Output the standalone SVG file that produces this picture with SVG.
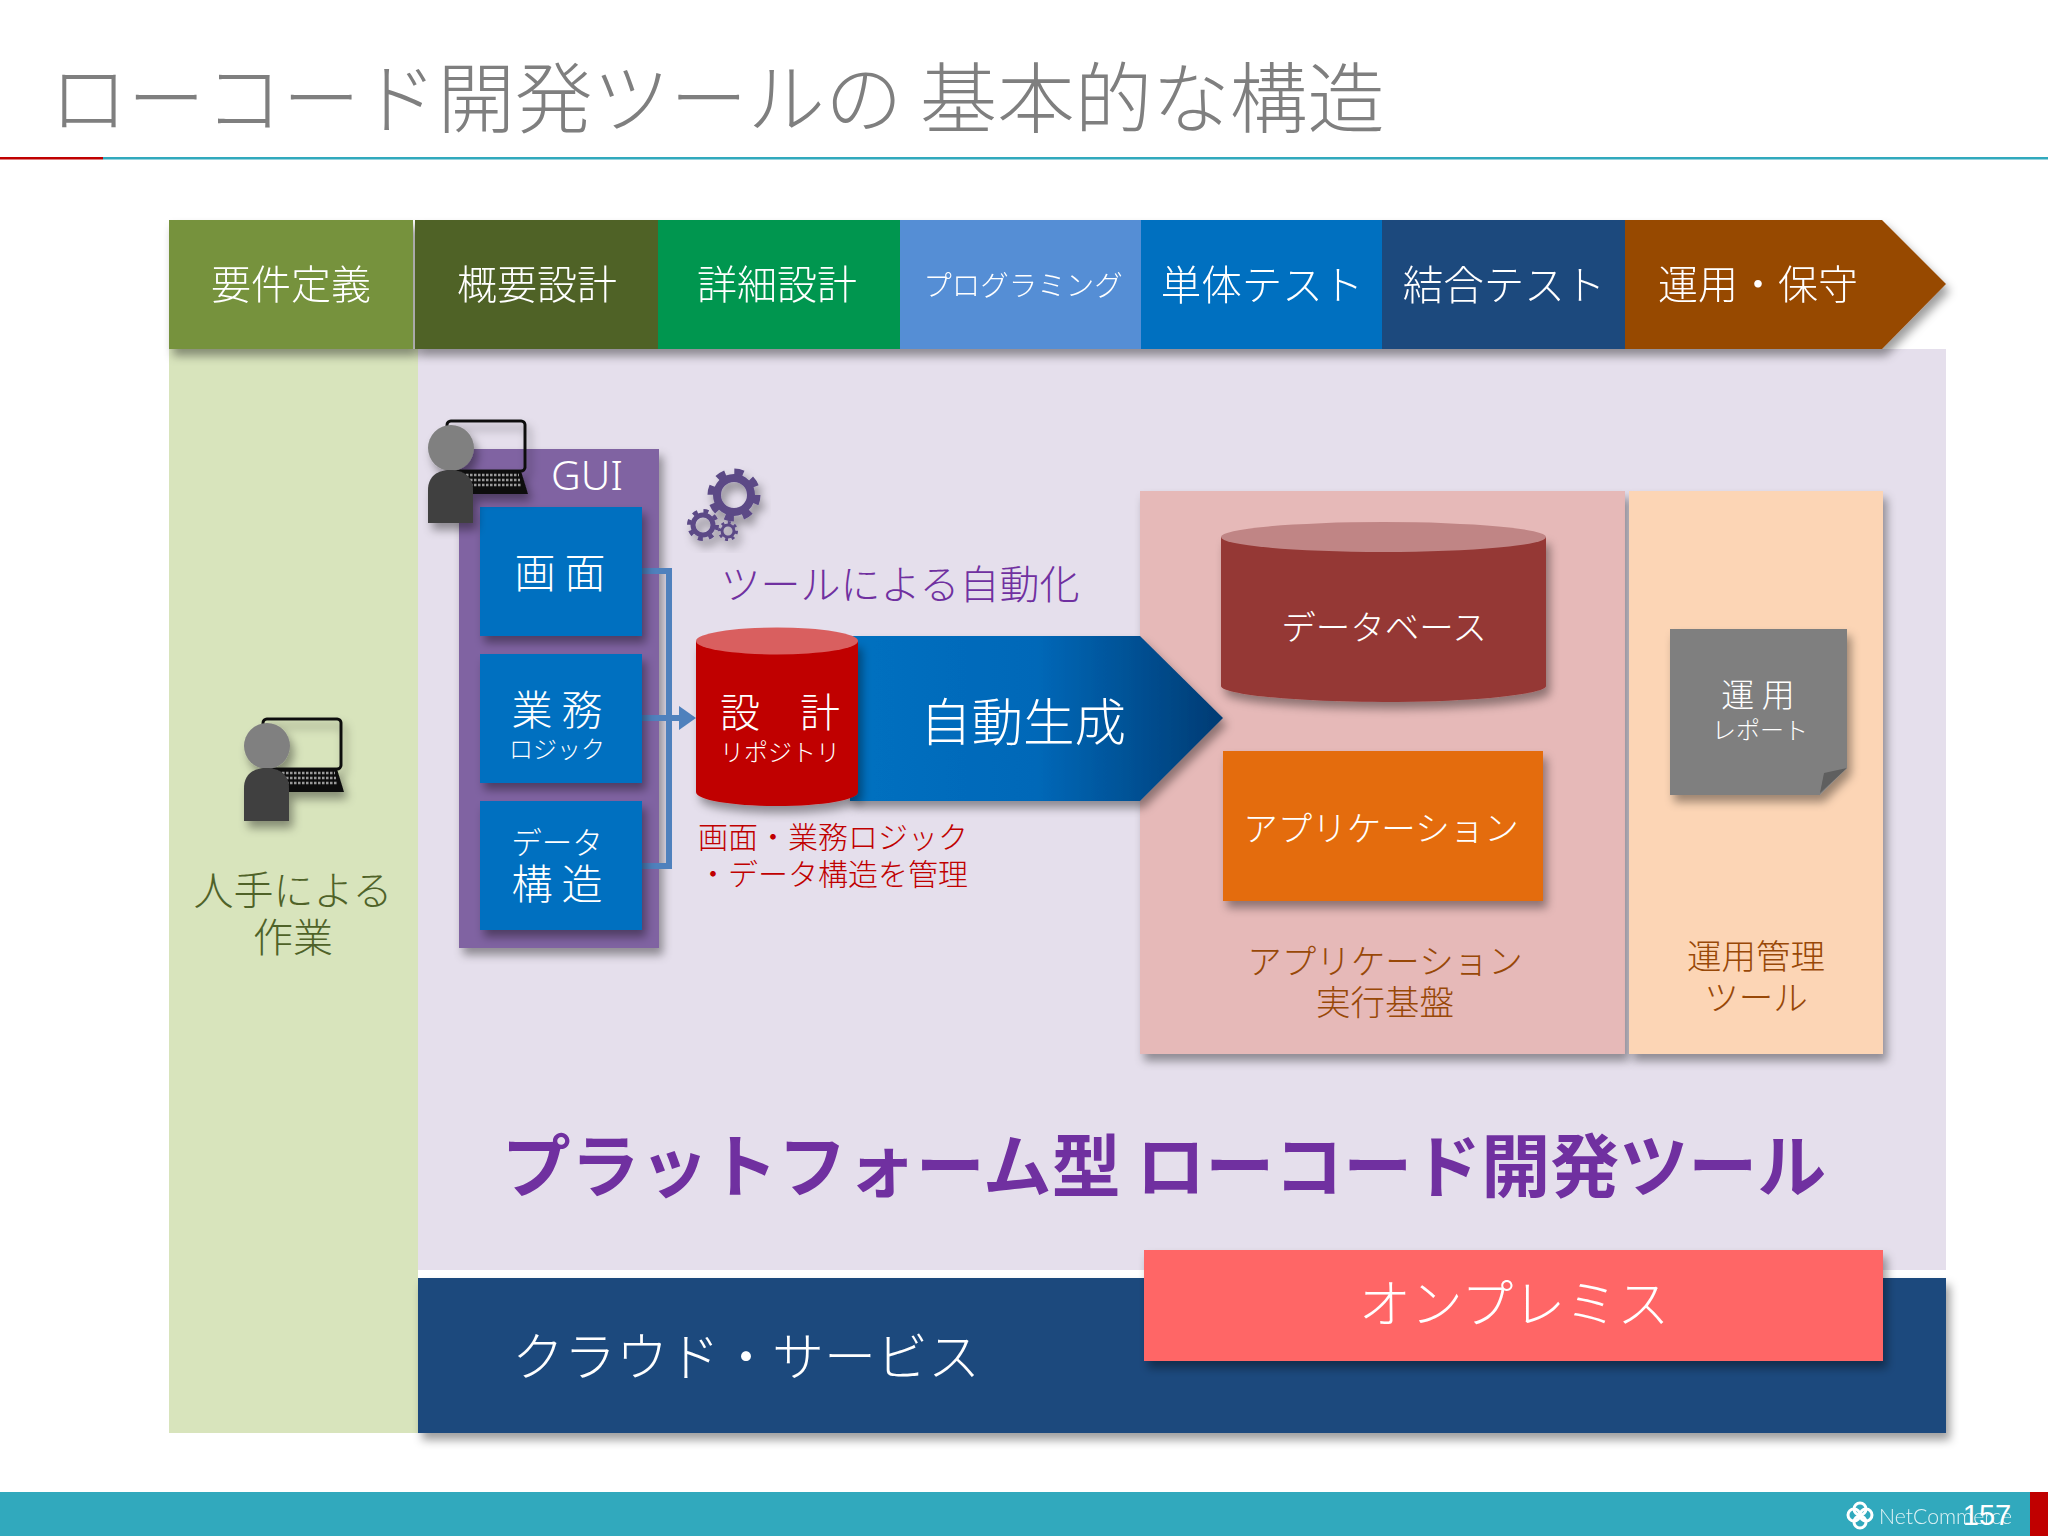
<svg xmlns="http://www.w3.org/2000/svg" xmlns:xlink="http://www.w3.org/1999/xlink" width="2048" height="1536" viewBox="0 0 2048 1536">
<style>
text{font-family:"Noto Sans CJK JP","Noto Sans",sans-serif;font-weight:300;dominant-baseline:central;text-anchor:middle;fill:#fff}
.s{filter:url(#sh)}
.g{stroke:#5b4a86;fill:none}
.c{fill:none;stroke:#4f81bd;stroke-width:6}
</style>
<defs>
<filter id="sh" x="-20%" y="-20%" width="140%" height="140%"><feDropShadow dx="4" dy="7" stdDeviation="5" flood-color="#000" flood-opacity=".38"/></filter>
<linearGradient id="ag" x1="0" x2="1" y1="0" y2="0"><stop offset="0" stop-color="#0070c0"/><stop offset=".5" stop-color="#0068b8"/><stop offset="1" stop-color="#003b73"/></linearGradient>
<g id="person">
<rect x="447" y="421" width="78" height="50" rx="4" fill="#fff" fill-opacity="0" stroke="#111" stroke-width="3"/>
<path d="M462 471H521L528 494H462Z" fill="#111"/>
<path d="M466 475H519M466 480H520M466 485H522" stroke="#999" stroke-width="2.5" stroke-dasharray="2.5 1.5"/>
<circle cx="451" cy="448" r="23" fill="#808080"/>
<path d="M428 523V490C428 476 438 470 450 470C463 470 473 476 473 490V523Z" fill="#404040"/>
</g>
</defs>
<rect width="2048" height="1536" fill="#fff"/>
<g id="title"><text x="50" y="93" style="text-anchor:start;fill:#7f7f7f" font-size="77.500">ローコード開発ツールの 基本的な構造</text></g>
<g id="rule"><rect x="0" y="157" width="103" height="2.500" fill="#c00000"/><rect x="103" y="157" width="1945" height="2.500" fill="#31a9bd"/></g>

<g id="pane-purple"><rect x="418" y="349" width="1528" height="921" fill="#e5dfec"/></g>
<g id="pane-green"><rect x="169" y="349" width="249" height="1084" fill="#d8e4bc"/><text x="293" y="888" font-size="40" style="fill:#4f6228">人手による</text><text x="293" y="935" font-size="40" style="fill:#4f6228">作業</text></g>
<use id="person-manual" xlink:href="#person" href="#person" x="-184" y="298" class="s"/>

<g id="phases" class="s">
<g id="p1"><rect x="169" y="220" width="244" height="129" fill="#76923c"/><text x="291" y="282" font-size="40">要件定義</text></g>
<g id="p2"><rect x="415" y="220" width="243" height="129" fill="#4f6228"/><text x="537" y="282" font-size="40">概要設計</text></g>
<g id="p3"><rect x="658" y="220" width="242" height="129" fill="#00964f"/><text x="777" y="282" font-size="40">詳細設計</text></g>
<g id="p4"><rect x="900" y="220" width="241" height="129" fill="#558ed5"/><text x="1023" y="283" font-size="28.500">プログラミング</text></g>
<g id="p5"><rect x="1141" y="220" width="241" height="129" fill="#0070c0"/><text x="1262" y="282" font-size="40.500">単体テスト</text></g>
<g id="p6"><rect x="1382" y="220" width="243" height="129" fill="#1f497d"/><text x="1504" y="282" font-size="40.500">結合テスト</text></g>
<g id="p7"><path d="M1625 220H1882L1946 284L1882 349H1625Z" fill="#974806"/><text x="1758" y="282" font-size="40">運用・保守</text></g>
</g>

<g id="gui"><rect class="s" x="459" y="449" width="200" height="499" fill="#8064a2"/><text x="587" y="474" font-size="41" style="font-family:'Noto Sans',sans-serif">GUI</text></g>
<g id="connectors">
<path class="c" d="M642 571H669V866H642M642 718H680"/>
<path d="M679 706L696 718L679 730Z" fill="#4f81bd"/>
</g>
<g id="box-screen"><rect class="s" x="480" y="507" width="162" height="129" fill="#0070c0"/><text x="560" y="570" font-size="41" xml:space="preserve">画 面</text></g>
<g id="box-logic"><rect class="s" x="480" y="654" width="162" height="129" fill="#0070c0"/><text x="557" y="707" font-size="41">業 務</text><text x="557" y="747" font-size="24">ロジック</text></g>
<g id="box-data"><rect class="s" x="480" y="801" width="162" height="129" fill="#0070c0"/><text x="557" y="841" font-size="30.500">データ</text><text x="557" y="881" font-size="41">構 造</text></g>
<use id="person-gui" xlink:href="#person" href="#person" class="s"/>

<g id="gears" class="s" transform="translate(1 1)">
<circle class="g" cx="733" cy="494" r="17" stroke-width="8"/><circle class="g" cx="733" cy="494" r="23" stroke-width="7" stroke-dasharray="9 9"/>
<circle class="g" cx="702" cy="524" r="10" stroke-width="5"/><circle class="g" cx="702" cy="524" r="14" stroke-width="4" stroke-dasharray="5 6"/>
<circle class="g" cx="727" cy="530" r="6" stroke-width="3"/><circle class="g" cx="727" cy="530" r="8.500" stroke-width="3" stroke-dasharray="3 3.600"/>
</g>
<g id="auto-label"><text x="900" y="582" font-size="40" style="fill:#7030a0">ツールによる自動化</text></g>

<g id="runtime"><rect class="s" x="1140" y="491" width="485" height="563" fill="#e6b9b8"/><text x="1385" y="959" font-size="34.500" style="fill:#984807">アプリケーション</text><text x="1385" y="1000" font-size="34.500" style="fill:#984807">実行基盤</text></g>
<g id="ops"><rect class="s" x="1629" y="491" width="254" height="563" fill="#fcd5b5"/><text x="1756" y="954" font-size="34.500" style="fill:#984807">運用管理</text><text x="1756" y="995" font-size="34.500" style="fill:#984807">ツール</text></g>

<g id="auto-arrow"><path class="s" d="M850 636H1140L1223 718L1140 801H850Z" fill="url(#ag)"/><text x="1023" y="718" font-size="51.500">自動生成</text></g>
<g id="repo">
<path class="s" d="M696 641V792C696 800 732 806 777 806C822 806 858 800 858 792V641Z" fill="#c00000"/>
<ellipse cx="777" cy="641" rx="81" ry="13.500" fill="#d95f5f"/>
<text x="780" y="710" font-size="40" xml:space="preserve">設　計</text><text x="780" y="750" font-size="24">リポジトリ</text>
</g>
<g id="repo-note"><text x="833" y="835" font-size="30" style="fill:#c00000">画面・業務ロジック</text><text x="833" y="872" font-size="30" style="fill:#c00000">・データ構造を管理</text></g>

<g id="db">
<path class="s" d="M1221 537V686C1221 694 1291 702 1383 702C1475 702 1546 694 1546 686V537Z" fill="#953735"/>
<ellipse cx="1383.500" cy="537" rx="162.500" ry="15" fill="#c08585"/>
<text x="1384" y="625" font-size="34.500">データベース</text>
</g>
<g id="app"><rect class="s" x="1223" y="751" width="320" height="150" fill="#e46c0a"/><text x="1381" y="826" font-size="34.500">アプリケーション</text></g>
<g id="report">
<path class="s" d="M1670 629H1847V768L1820 795H1670Z" fill="#7f7f7f"/>
<path d="M1847 768L1824 773L1820 793Z" fill="#5f5f5f"/>
<text x="1758" y="693" font-size="33">運 用</text><text x="1760" y="728" font-size="24">レポート</text>
</g>

<g id="platform-title"><text x="1164" y="1162" font-size="69" style="fill:#7030a0;font-weight:700">プラットフォーム型 ローコード開発ツール</text></g>
<g id="cloud"><rect class="s" x="418" y="1278" width="1528" height="155" fill="#1f497d"/><text x="746" y="1353" font-size="52">クラウド・サービス</text></g>
<g id="onprem"><rect class="s" x="1144" y="1250" width="739" height="111" fill="#ff6666"/><text x="1514" y="1300" font-size="52">オンプレミス</text></g>

<g id="footer">
<rect x="0" y="1492" width="2030" height="44" fill="#31a9bd"/><rect x="2030" y="1492" width="18" height="44" fill="#c00000"/>
<g fill="none" stroke="#fff" stroke-width="3"><circle cx="1854" cy="1515" r="6"/><circle cx="1866" cy="1515" r="6"/><circle cx="1860" cy="1509" r="6"/><circle cx="1860" cy="1522" r="6"/></g>
<text x="1879" y="1515" font-size="22" textLength="133" lengthAdjust="spacingAndGlyphs" style="text-anchor:start;font-family:'Lato','Noto Sans',sans-serif;opacity:.85">NetCommerce</text>
<text x="1987" y="1515" font-size="29" style="font-family:'Liberation Sans',sans-serif;font-weight:400">157</text>
</g>
</svg>
